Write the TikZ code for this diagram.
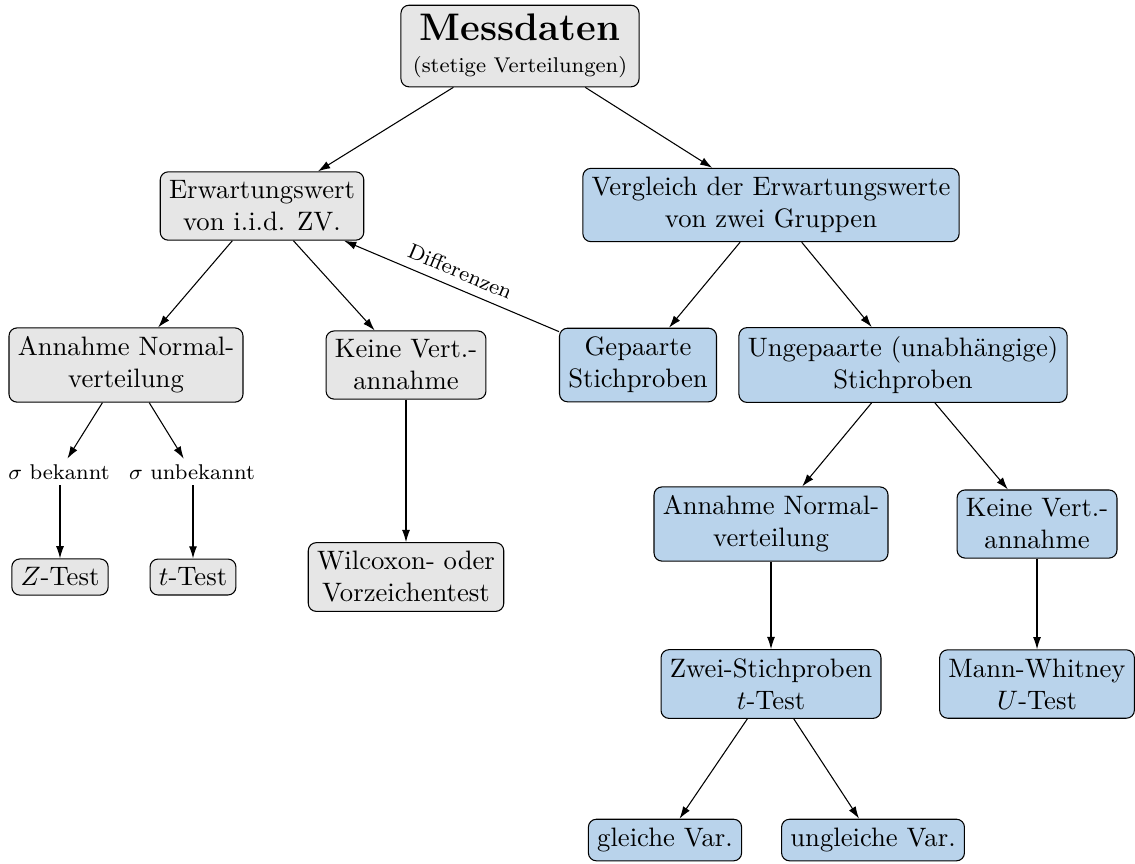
\documentclass[tikz,border=0pt]{standalone}
\usetikzlibrary{arrows.meta}
\definecolor{boxgray}{RGB}{230,230,230}
\definecolor{boxblue}{RGB}{185,211,235}
\begin{document}
\begin{tikzpicture}[x=0.375pt,y=-0.375pt,
  base/.style={draw, rounded corners=3pt, align=center, inner sep=3.3pt},
  graybox/.style={base, fill=boxgray},
  bluebox/.style={base, fill=boxblue},
  plain/.style={align=center, inner sep=2pt, font=\footnotesize},
  arr/.style={-{Latex[length=4.6pt,width=3pt]}, line width=0.4pt}]
\useasboundingbox (0,0) rectangle (1135,863);

% top level
\node[graybox, inner xsep=4.5pt, inner ysep=3.3pt] (mess) at (520,46)
  {{\Large\bfseries Messdaten}\\[0pt]{\footnotesize (stetige Verteilungen)}};
\node[graybox] (erw) at (262,206) {Erwartungswert\\von i.i.d. ZV.};
\node[bluebox] (vgl) at (771,205) {Vergleich der Erwartungswerte\\von zwei Gruppen};

% second level
\node[graybox] (annL) at (126,365) {Annahme Normal-\\verteilung};
\node[graybox] (keinL) at (406,365) {Keine Vert.-\\annahme};
\node[bluebox] (gep) at (638,365) {Gepaarte\\Stichproben};
\node[bluebox] (ungep) at (903,365) {Ungepaarte (unabh\"angige)\\Stichproben};

% one-sample tests
\node[plain] (sb) at (59,472) {$\sigma$ bekannt};
\node[plain] (su) at (192,472) {$\sigma$ unbekannt};
\node[graybox] (z) at (60,577) {$Z$-Test};
\node[graybox] (t) at (193,577) {$t$-Test};
\node[graybox] (wil) at (406,577) {Wilcoxon- oder\\Vorzeichentest};

% two-sample tests
\node[bluebox] (annR) at (771,524) {Annahme Normal-\\verteilung};
\node[bluebox] (keinR) at (1037,524) {Keine Vert.-\\annahme};
\node[bluebox] (zwei) at (771,684) {Zwei-Stichproben\\$t$-Test};
\node[bluebox] (mw) at (1037,684) {Mann-Whitney\\$U$-Test};
\node[bluebox] (gl) at (665,840) {gleiche Var.};
\node[bluebox] (ugl) at (873,840) {ungleiche Var.};

\draw[arr] (mess) -- (erw);
\draw[arr] (mess) -- (vgl);
\draw[arr] (erw) -- (annL);
\draw[arr] (erw) -- (keinL);
\draw[arr] (vgl) -- (gep);
\draw[arr] (vgl) -- (ungep);
\draw[arr] (gep) -- node[sloped, above, font=\footnotesize, pos=0.49] {Differenzen} (erw);
\draw[arr] (annL) -- (sb);
\draw[arr] (annL) -- (su);
\draw[arr] (sb.south -| z) -- (z);
\draw[arr] (su.south -| t) -- (t);
\draw[arr] (keinL) -- (wil);
\draw[arr] (ungep) -- (annR);
\draw[arr] (ungep) -- (keinR);
\draw[arr] (annR) -- (zwei);
\draw[arr] (keinR) -- (mw);
\draw[arr] (zwei) -- (gl);
\draw[arr] (zwei) -- (ugl);
\end{tikzpicture}
\end{document}
